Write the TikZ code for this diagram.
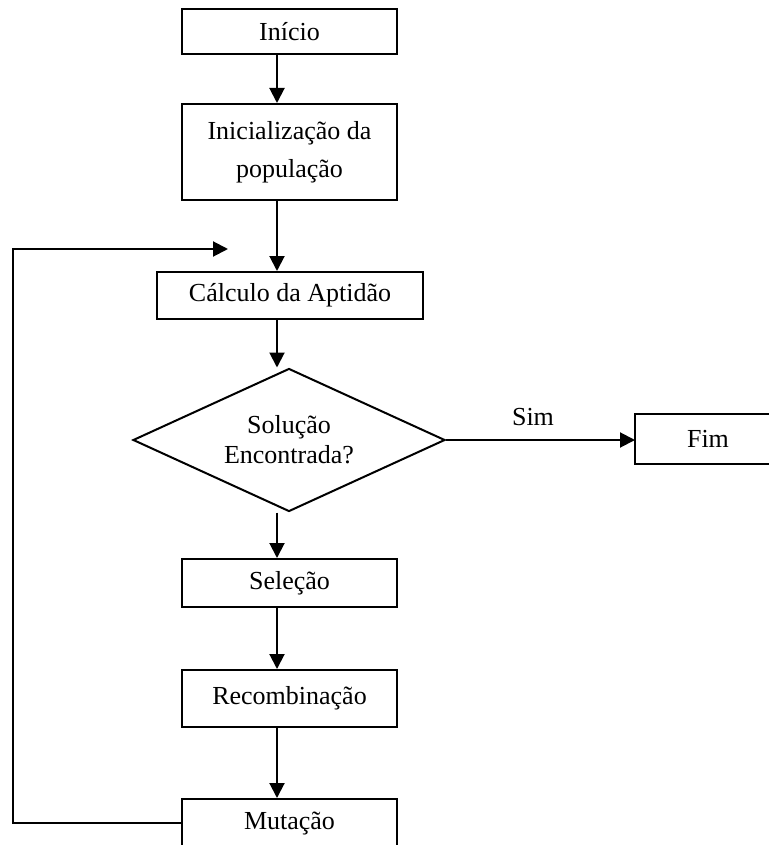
\documentclass[tikz,border=0pt]{standalone}
\usepackage{fontspec}
\setmainfont{Liberation Serif}
\usetikzlibrary{shapes.geometric,arrows.meta}
\begin{document}
\begin{tikzpicture}[x=0.5pt,y=-0.5pt,line width=1pt,
  texto/.style={font=\fontsize{13}{15}\selectfont,align=center},
  caixa/.style={texto,draw,rectangle,inner sep=0pt,minimum width=107.5pt},
  seta/.style={-{Triangle[length=7.5pt,width=7.5pt]}}]
\useasboundingbox (0,0) rectangle (769,845);
\node[caixa,minimum height=22.5pt](inicio) at (289.5,31.5){Início};
\node[caixa,minimum height=48pt](pop) at (289.5,152){Inicialização da\\[4pt]população};
\node[caixa,minimum width=133pt,minimum height=23.5pt](apt) at (290,295.5){Cálculo da Aptidão};
\node[texto,draw,diamond,aspect=2.18,inner sep=0pt,minimum width=156pt,minimum height=71.5pt](dec) at (289,440){Solução\\Encontrada?};
\node[caixa,draw=none,minimum width=72pt,minimum height=24pt](fim) at (708,439){Fim};
\node[caixa,minimum height=24pt](sel) at (289.5,583){Seleção};
\node[caixa,minimum height=28.5pt](rec) at (289.5,698.5){Recombinação};
\node[caixa,minimum height=24pt](mut) at (289.5,823){Mutação};
\node[texto](sim) at (533,417){Sim};
% caixa Fim cortada na margem direita
\draw(fim.north east) -- (fim.north west) -- (fim.south west) -- (fim.south east);
% eixo das setas e laco de volta
\coordinate (ax) at (277,0);
\coordinate (lp) at (13,249);
\coordinate (lq) at (228,249);
\draw[seta](inicio.south -| ax) -- (pop.north -| ax);
\draw[seta](pop.south -| ax) -- (apt.north -| ax);
\draw[seta](apt.south -| ax) -- (dec.north -| ax);
\draw[seta](dec.east) -- (fim.west |- dec.east);
\draw[seta](dec.south -| ax) -- (sel.north -| ax);
\draw[seta](sel.south -| ax) -- (rec.north -| ax);
\draw[seta](rec.south -| ax) -- (mut.north -| ax);
\draw[seta](mut.west) -| (lp) -- (lq);
\end{tikzpicture}
\end{document}
